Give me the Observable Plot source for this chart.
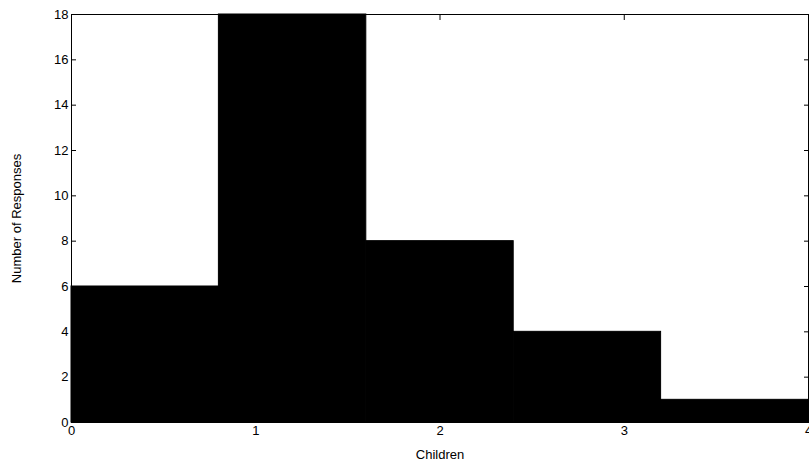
<!DOCTYPE html>
<html><head><meta charset="utf-8">
<script src="https://cdn.jsdelivr.net/npm/d3@7"></script>
<script src="https://cdn.jsdelivr.net/npm/@observablehq/plot@0.6"></script>
<style>body{margin:0;background:#fff}svg{font-family:"Liberation Sans",Arial,sans-serif}</style>
</head><body><div id="chart"></div>
<script>
var binStart = [0, 0.8, 1.6, 2.4, 3.2];
var binEnd = [0.8, 1.6, 2.4, 3.2, 4.0];
var counts = [6, 18, 8, 4, 1];
var xTicks = [0, 1, 2, 3, 4];
var yTicks = [0, 2, 4, 6, 8, 10, 12, 14, 16, 18];

var bins = counts.map(function (c, i) { return { x1: binStart[i], x2: binEnd[i], n: c }; });

var chart = Plot.plot({
  width: 809, height: 465,
  marginLeft: 71, marginRight: 1, marginTop: 14, marginBottom: 43,
  style: { fontSize: "13px", fontFamily: "Liberation Sans, Arial, sans-serif", color: "#000" },
  x: { domain: [0, 4] },
  y: { domain: [0, 18] },
  marks: [
    Plot.rectY(bins, { x1: "x1", x2: "x2", y: "n", fill: "#000", stroke: "#000", inset: 0 }),
    Plot.axisX({ ticks: xTicks, tickFormat: "d", tickSize: -5, tickPadding: 8, label: "Children", labelAnchor: "center", labelArrow: false, labelOffset: 36 }),
    Plot.axisX({ anchor: "top", ticks: xTicks, tickSize: -5, tickFormat: function () { return ""; }, label: null }),
    Plot.axisY({ ticks: yTicks, tickFormat: "d", tickSize: -5, tickPadding: 8, label: "Number of Responses", labelAnchor: "center", labelArrow: false, labelOffset: 60 }),
    Plot.axisY({ anchor: "right", ticks: yTicks, tickSize: -5, tickFormat: function () { return ""; }, label: null }),
    Plot.frame({ stroke: "#000" })
  ]
});
document.getElementById("chart").append(chart);
</script>
</body></html>
